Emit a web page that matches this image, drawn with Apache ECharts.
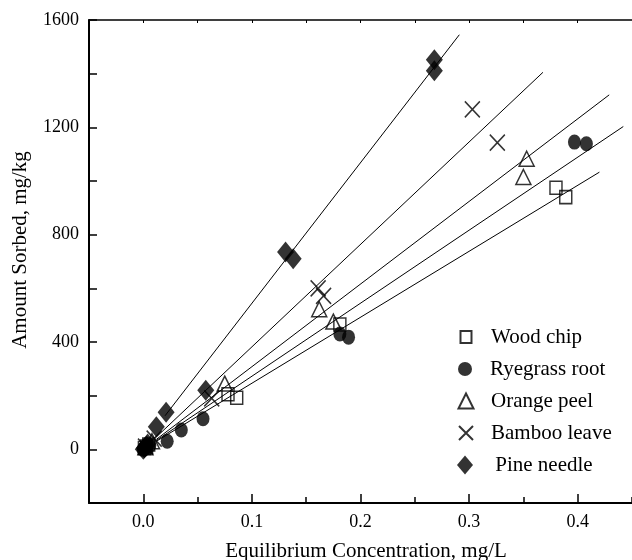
<!DOCTYPE html>
<html>
<head>
<meta charset="utf-8">
<script src="https://cdn.jsdelivr.net/npm/echarts@6/dist/echarts.min.js"></script>
<style>
  html, body { margin: 0; padding: 0; background: #fff; }
  #chart { width: 632px; height: 560px; }
</style>
</head>
<body>
<div id="chart"></div>
<script>
const woodX = [0.001, 0.003, 0.005, 0.078, 0.086, 0.181, 0.380, 0.389];
const woodY = [5, 10, 18, 205, 192, 465, 975, 940];
const ryeX = [0.000, 0.001, 0.003, 0.006, 0.022, 0.035, 0.055, 0.181, 0.189, 0.397, 0.408];
const ryeY = [0, 4, 8, 15, 30, 72, 114, 430, 418, 1145, 1139];
const orangeX = [0.002, 0.008, 0.075, 0.162, 0.175, 0.350, 0.353];
const orangeY = [8, 30, 245, 522, 476, 1015, 1083];
const bambooX = [0.002, 0.010, 0.063, 0.161, 0.166, 0.303, 0.326];
const bambooY = [10, 40, 190, 600, 572, 1267, 1143];
const pineX = [0.000, 0.001, 0.003, 0.004, 0.012, 0.021, 0.0575, 0.131, 0.138, 0.268, 0.268];
const pineY = [0, 5, 12, 20, 84, 138, 220, 735, 710, 1411, 1452];

// fitted lines: [start, end]
const woodFit = [[0.012, 30], [0.420, 1033]];
const ryeFit = [[0.012, 33], [0.442, 1203]];
const orangeFit = [[0.012, 37], [0.429, 1321]];
const bambooFit = [[0.012, 46], [0.368, 1405]];
const pineFit = [[0.020, 125], [0.291, 1545]];

const names = ['Wood chip', 'Ryegrass root', 'Orange peel', 'Bamboo leave', ' Pine needle'];
const xMajor = [0, 0.1, 0.2, 0.3, 0.4];
const xMinor = [0.05, 0.15, 0.25, 0.35, 0.45];

const FONT = 'Liberation Serif';
const zip = (xs, ys) => xs.map((x, i) => [x, ys[i]]);
const CROSS = 'path://M0,0L10,10M10,0L0,10';

function fitLine(d) {
  return {
    type: 'line', data: d, showSymbol: false, symbol: 'none', silent: true,
    lineStyle: { color: '#000', width: 1 }, z: 1
  };
}

// one legend per entry so each icon keeps its own size
const legendRows = [337, 369, 401, 433, 465];
const legendIcons = [[11, 12], [14, 15], [15, 15], [14, 15], [16, 19]];
const legends = names.map((n, i) => {
  const w = legendIcons[i][0], h = legendIcons[i][1];
  return {
    data: [n],
    left: 465 - w / 2,
    top: legendRows[i] - 11,
    itemWidth: w, itemHeight: h,
    selectedMode: false,
    padding: 0,
    textStyle: { color: '#000', fontFamily: FONT, fontSize: 21, lineHeight: 22, padding: [0, 0, 0, 20 - w / 2] }
  };
});

const chart = echarts.init(document.getElementById('chart'));
chart.setOption({
  animation: false,
  grid: { left: 89, top: 20, width: 550, height: 483 },
  xAxis: [
    {
      type: 'value', position: 'bottom', min: -0.05, max: 0.45,
      axisLine: { onZero: false, lineStyle: { color: '#000', width: 2 } },
      axisTick: { inside: true, length: 9, customValues: xMajor, lineStyle: { color: '#000', width: 1.5 } },
      axisLabel: { customValues: xMajor, formatter: v => v.toFixed(1), color: '#000', fontFamily: FONT, fontSize: 18, margin: 10 },
      splitLine: { show: false }
    },
    {
      type: 'value', position: 'bottom', min: -0.05, max: 0.45,
      axisLine: { show: false, onZero: false },
      axisTick: { inside: true, length: 6, customValues: xMinor, lineStyle: { color: '#000', width: 1.5 } },
      axisLabel: { show: false },
      splitLine: { show: false }
    },
    {
      type: 'value', position: 'top', min: -0.05, max: 0.45, interval: 0.05,
      axisLine: { onZero: false, lineStyle: { color: '#000', width: 1.5 } },
      axisTick: { inside: true, length: 3, lineStyle: { color: '#000' } },
      axisLabel: { show: false },
      splitLine: { show: false }
    }
  ],
  yAxis: {
    type: 'value', min: -200, max: 1600, interval: 200,
    axisLine: { show: true, onZero: false, lineStyle: { color: '#000', width: 2 } },
    axisTick: { show: true, inside: true, length: 8, lineStyle: { color: '#000', width: 1.5 } },
    axisLabel: { formatter: v => (v % 400 === 0 ? String(v) : ''), color: '#000', fontFamily: FONT, fontSize: 18, margin: 10 },
    splitLine: { show: false }
  },
  legend: legends,
  graphic: [
    {
      type: 'text', x: 20, y: 250, rotation: Math.PI / 2,
      style: { text: 'Amount Sorbed, mg/kg', fill: '#000', font: '21px "Liberation Serif"', textAlign: 'center', textVerticalAlign: 'middle' }
    },
    {
      type: 'text', x: 366, y: 551,
      style: { text: 'Equilibrium Concentration, mg/L', fill: '#000', font: '21px "Liberation Serif"', textAlign: 'center', textVerticalAlign: 'middle' }
    }
  ],
  series: [
    fitLine(woodFit), fitLine(ryeFit), fitLine(orangeFit), fitLine(bambooFit), fitLine(pineFit),
    {
      name: names[0], type: 'scatter', data: zip(woodX, woodY), symbol: 'rect', symbolSize: [12, 13],
      itemStyle: { color: 'rgba(255,255,255,0)', borderColor: '#000', borderWidth: 1.5 }, z: 3
    },
    {
      name: names[1], type: 'scatter', data: zip(ryeX, ryeY), symbol: 'circle', symbolSize: [13, 15],
      itemStyle: { color: '#000' }, z: 3
    },
    {
      name: names[2], type: 'scatter', data: zip(orangeX, orangeY), symbol: 'triangle', symbolSize: [15, 15],
      itemStyle: { color: 'rgba(255,255,255,0)', borderColor: '#000', borderWidth: 1.5 }, z: 3
    },
    {
      name: names[3], type: 'scatter', data: zip(bambooX, bambooY), symbol: CROSS, symbolSize: [15, 16],
      itemStyle: { color: 'rgba(255,255,255,0)', borderColor: '#000', borderWidth: 1.5 }, z: 3
    },
    {
      name: names[4], type: 'scatter', data: zip(pineX, pineY), symbol: 'diamond', symbolSize: [17, 21],
      itemStyle: { color: '#000' }, z: 3
    }
  ]
});
</script>
</body>
</html>
